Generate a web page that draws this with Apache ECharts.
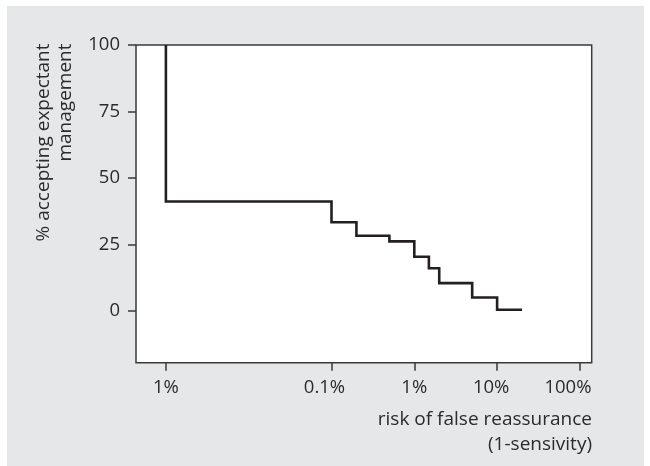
<!DOCTYPE html>
<html>
<head>
<meta charset="utf-8">
<script src="https://cdn.jsdelivr.net/npm/echarts@6/dist/echarts.min.js"></script>
<style>
html,body{margin:0;padding:0;background:#ffffff;}
#chart{width:650px;height:466px;}
</style>
</head>
<body>
<div id="chart"></div>
<script>
// risk of false reassurance (percent) and % accepting expectant management
const riskPct = [0.001, 0.001, 0.1, 0.2, 0.5, 1, 1.5, 2, 5, 10, 20];
const acceptPct = [100, 41.2, 33.4, 28.3, 26.2, 20.4, 16.1, 10.5, 5.1, 0.5, 0.5];

const xTickValues = [0.001, 0.1, 1, 10, 100];
const xTickLabels = ['1%', '0.1%', '1%', '10%', '100%'];
const xLabelShift = [0, -7, 0, -6, -12];
const yTickValues = [0, 25, 50, 75, 100];

const FONT = '"Open Sans", "DejaVu Sans", sans-serif';
const TXT = '#2b2b2b';
const FRAME = '#3a3a3a';
const TICK_FS = 18.5;
const TITLE_FS = 19;

const chart = echarts.init(document.getElementById('chart'), null, {renderer: 'canvas'});

function xIndex(v) {
  for (let i = 0; i < xTickValues.length; i++) {
    if (Math.abs(Math.log10(v) - Math.log10(xTickValues[i])) < 1e-6) return i;
  }
  return -1;
}

const rich = {};
xTickValues.forEach((v, i) => {
  const s = xLabelShift[i];
  rich['l' + i] = {
    fontFamily: FONT, fontSize: TICK_FS, color: TXT,
    padding: s < 0 ? [0, -2 * s, 0, 0] : [0, 0, 0, 2 * s]
  };
});

const option = {
  animation: false,
  backgroundColor: '#ffffff',
  graphic: [
    {type: 'rect', z: -10, silent: true, shape: {x: 7, y: 6, width: 637, height: 460}, style: {fill: '#e6e7e8'}},
    {type: 'text', x: 33, y: 43.5, rotation: Math.PI / 2, silent: true,
     style: {text: '% accepting expectant\nmanagement', align: 'right', verticalAlign: 'top',
             fontFamily: FONT, fontSize: TITLE_FS, lineHeight: 22, fill: TXT}},
    {type: 'text', x: 592, y: 407, silent: true,
     style: {text: 'risk of false reassurance\n(1-sensivity)', align: 'right', verticalAlign: 'top',
             fontFamily: FONT, fontSize: TITLE_FS, lineHeight: 25, fill: TXT}}
  ],
  grid: {
    left: 136, top: 45, right: 58.3, bottom: 103.3,
    show: true, backgroundColor: '#ffffff', borderColor: FRAME, borderWidth: 1.5,
    containLabel: false
  },
  xAxis: {
    type: 'log', logBase: 10,
    min: 4.355e-4, max: 138.8,
    position: 'bottom',
    axisLine: {show: false, onZero: false},
    splitLine: {show: false},
    minorTick: {show: false},
    axisTick: {show: true, length: 8, inside: false, customValues: xTickValues,
               lineStyle: {color: FRAME, width: 1.5}},
    axisLabel: {
      customValues: xTickValues,
      margin: 16,
      fontFamily: FONT, fontSize: TICK_FS, color: TXT,
      formatter: function (v) {
        const i = xIndex(v);
        if (i < 0) return '';
        return '{l' + i + '|' + xTickLabels[i] + '}';
      },
      rich: rich
    }
  },
  yAxis: {
    type: 'value',
    min: -19.4, max: 100,
    position: 'left',
    axisLine: {show: false, onZero: false},
    splitLine: {show: false},
    axisTick: {show: true, length: 8, inside: false, customValues: yTickValues,
               lineStyle: {color: FRAME, width: 1.5}},
    axisLabel: {customValues: yTickValues, margin: 16, fontFamily: FONT, fontSize: TICK_FS, color: TXT}
  },
  series: [{
    type: 'line',
    step: 'end',
    data: riskPct.map((x, i) => [x, acceptPct[i]]),
    showSymbol: false,
    symbol: 'none',
    lineStyle: {color: '#231f20', width: 2.6, cap: 'butt', join: 'miter'},
    clip: true
  }]
};

chart.setOption(option);
</script>
</body>
</html>
